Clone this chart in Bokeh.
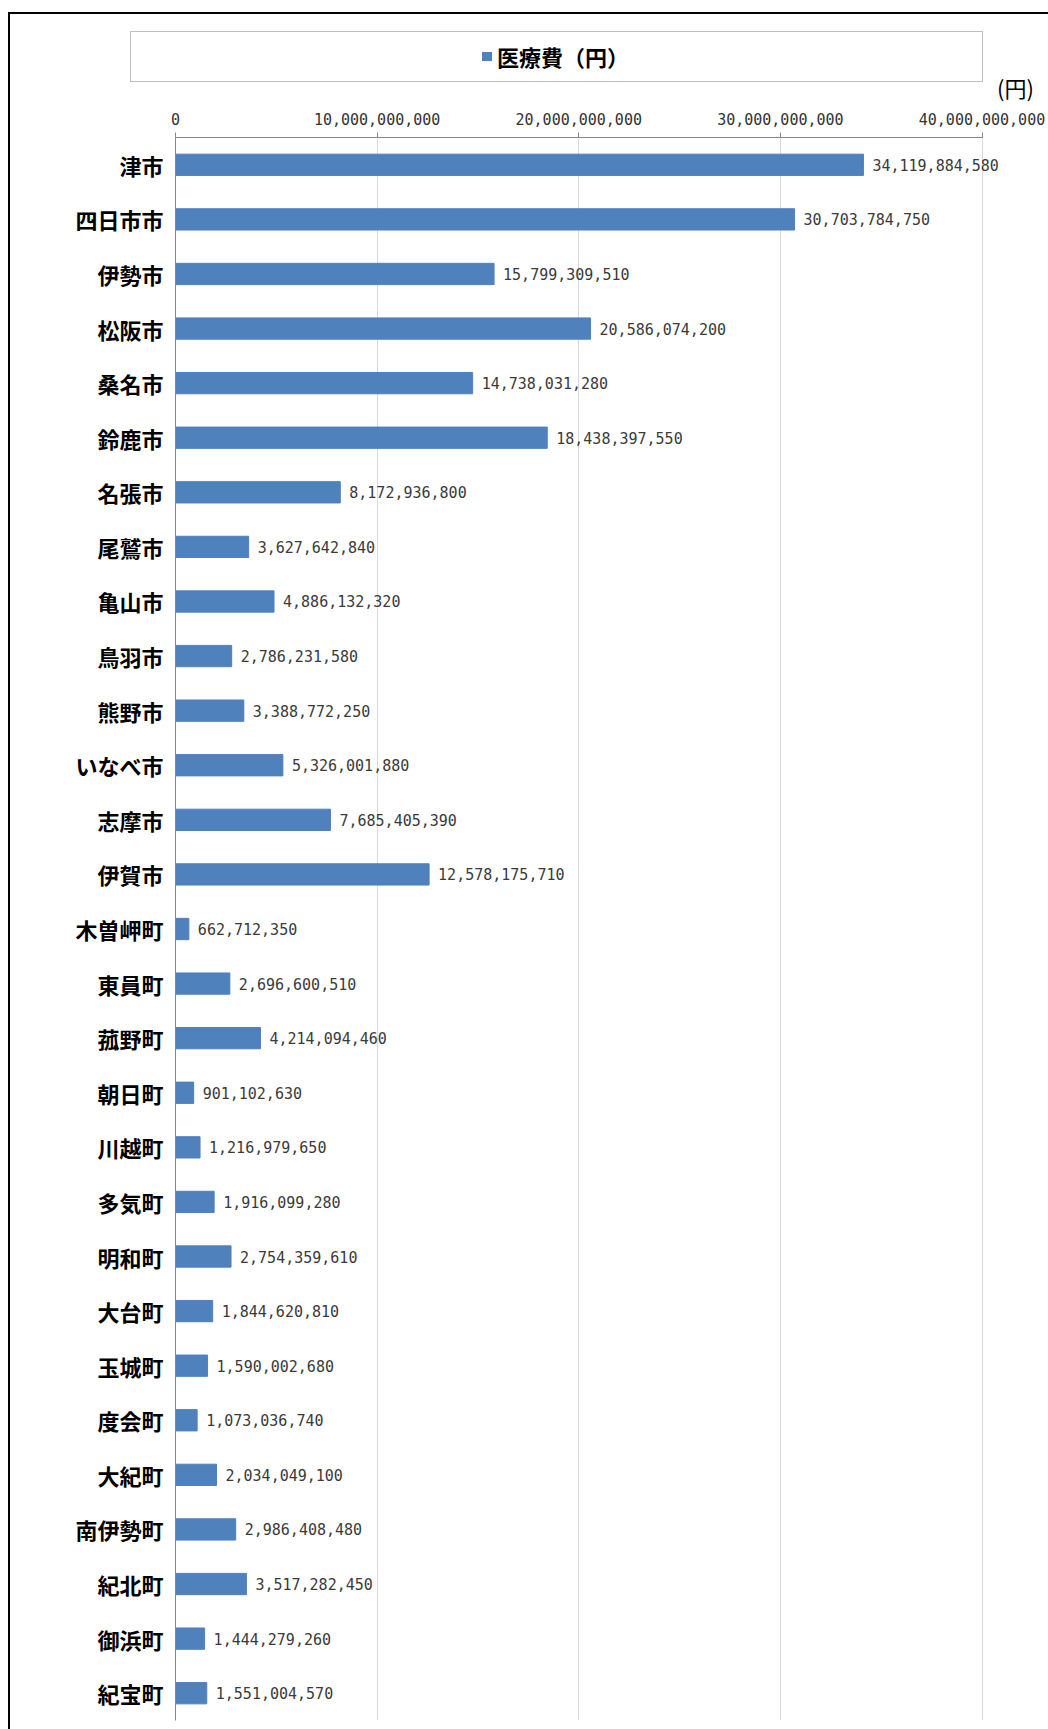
from bokeh.plotting import figure
from bokeh.layouts import column
from bokeh.models import (ColumnDataSource, FactorRange, Range1d, FixedTicker,
                          LabelSet, Div)
from bokeh.core.properties import value
from bokeh.embed import file_html
from bokeh.resources import INLINE

# ---- data ----
municipalities = [
    "津市", "四日市市", "伊勢市", "松阪市", "桑名市", "鈴鹿市", "名張市",
    "尾鷲市", "亀山市", "鳥羽市", "熊野市", "いなべ市", "志摩市", "伊賀市",
    "木曽岬町", "東員町", "菰野町", "朝日町", "川越町", "多気町", "明和町",
    "大台町", "玉城町", "度会町", "大紀町", "南伊勢町", "紀北町", "御浜町",
    "紀宝町",
]
medical_costs = [
    34119884580, 30703784750, 15799309510, 20586074200, 14738031280,
    18438397550, 8172936800, 3627642840, 4886132320, 2786231580,
    3388772250, 5326001880, 7685405390, 12578175710,
    662712350, 2696600510, 4214094460, 901102630, 1216979650,
    1916099280, 2754359610, 1844620810, 1590002680, 1073036740,
    2034049100, 2986408480, 3517282450, 1444279260, 1551004570,
]
x_ticks = [0, 10000000000, 20000000000, 30000000000, 40000000000]
x_tick_labels = ["0", "10,000,000,000", "20,000,000,000",
                 "30,000,000,000", "40,000,000,000"]
series_name = "医療費（円）"
unit_label = "(円)"

BAR = "#4F81BD"
JP = "Noto Sans CJK JP"
NUM = "DejaVu Sans Mono"

# ---- layout geometry (page px) ----
PAGE_W, PAGE_H = 1048, 1729
BORDER_L, BORDER_T, BW = 8, 12, 2          # outer chart border
OX, OY = BORDER_L + BW, BORDER_T + BW      # content origin
HEADER_H = 106 - OY
FIG_W = PAGE_W - OX
FIG_H = PAGE_H - 106
FRAME_L, FRAME_T, FRAME_B = 175, 137, 1720
AXIS_END_PX = 981.5                        # page x of the last tick
frame_w = PAGE_W - FRAME_L
x_end = x_ticks[-1] * frame_w / (AXIS_END_PX - FRAME_L)

# ---- header (legend box + unit) ----
header_html = f"""
<div style="position:relative;width:{FIG_W}px;height:{HEADER_H}px;font-family:'{JP}';color:#000;">
  <div style="position:absolute;box-sizing:border-box;left:{130-OX}px;top:{31-OY}px;width:853px;height:51px;border:1.5px solid #BFBFBF;background:#fff;"></div>
  <div style="position:absolute;left:{482-OX}px;top:{52-OY}px;width:10px;height:9px;background:{BAR};"></div>
  <div style="position:absolute;left:{497-OX}px;top:{56-OY-12}px;font-size:22px;line-height:24px;font-weight:bold;white-space:nowrap;">{series_name}</div>
  <div style="position:absolute;left:{997-OX}px;top:{87-OY-12}px;font-size:22px;line-height:24px;white-space:nowrap;">{unit_label}</div>
</div>
"""
header = Div(text=header_html, width=FIG_W, height=HEADER_H, margin=0)

source = ColumnDataSource(dict(
    cat=municipalities,
    value=medical_costs,
    label=[f"{v:,}" for v in medical_costs],
))

p = figure(
    width=FIG_W, height=FIG_H,
    y_range=FactorRange(factors=list(reversed(municipalities))),
    x_range=Range1d(0, x_end),
    x_axis_location="above",
    output_backend="svg", toolbar_location=None,
    min_border_left=FRAME_L - OX, min_border_right=0,
    min_border_top=FRAME_T - 106, min_border_bottom=PAGE_H - FRAME_B,
    margin=0,
)
p.outline_line_color = None
p.background_fill_color = "white"
p.border_fill_color = "white"

p.hbar(y="cat", right="value", left=0, height=0.39, source=source,
       fill_color=BAR, line_color=BAR)

# x axis (top)
xa = p.xaxis[0]
xa.ticker = FixedTicker(ticks=x_ticks)
xa.bounds = (x_ticks[0], x_ticks[-1])
xa.major_label_overrides = {t: l for t, l in zip(x_ticks, x_tick_labels)}
xa.axis_line_color = "#868686"
xa.major_tick_line_color = "#868686"
xa.major_tick_out = 5
xa.major_tick_in = 0
xa.minor_tick_out = 0
xa.minor_tick_in = 0
xa.major_label_standoff = 8
xa.major_label_text_font = NUM
xa.major_label_text_font_size = "15px"
xa.major_label_text_color = "#333333"

# y axis (left)
ya = p.yaxis[0]
ya.axis_line_color = "#868686"
ya.major_tick_out = 0
ya.major_tick_in = 0
ya.minor_tick_out = 0
ya.major_label_standoff = 12
ya.major_label_text_font = JP
ya.major_label_text_font_style = "bold"
ya.major_label_text_font_size = "22px"
ya.major_label_text_color = "#000000"

p.xgrid.grid_line_color = "#D9D9D9"
p.ygrid.grid_line_color = None

labels = LabelSet(x="value", y="cat", text="label", source=source,
                  x_offset=9, text_align="left", text_baseline="middle",
                  text_font=value(NUM), text_font_size=value("15px"),
                  text_color="#3a3a3a")
p.add_layout(labels)

root = column(header, p, spacing=0,
              margin=(BORDER_T, 0, 0, BORDER_L),
              styles={"border-left": f"{BW}px solid #000",
                      "border-top": f"{BW}px solid #000"})

open("out.html", "w").write(file_html(root, INLINE))
